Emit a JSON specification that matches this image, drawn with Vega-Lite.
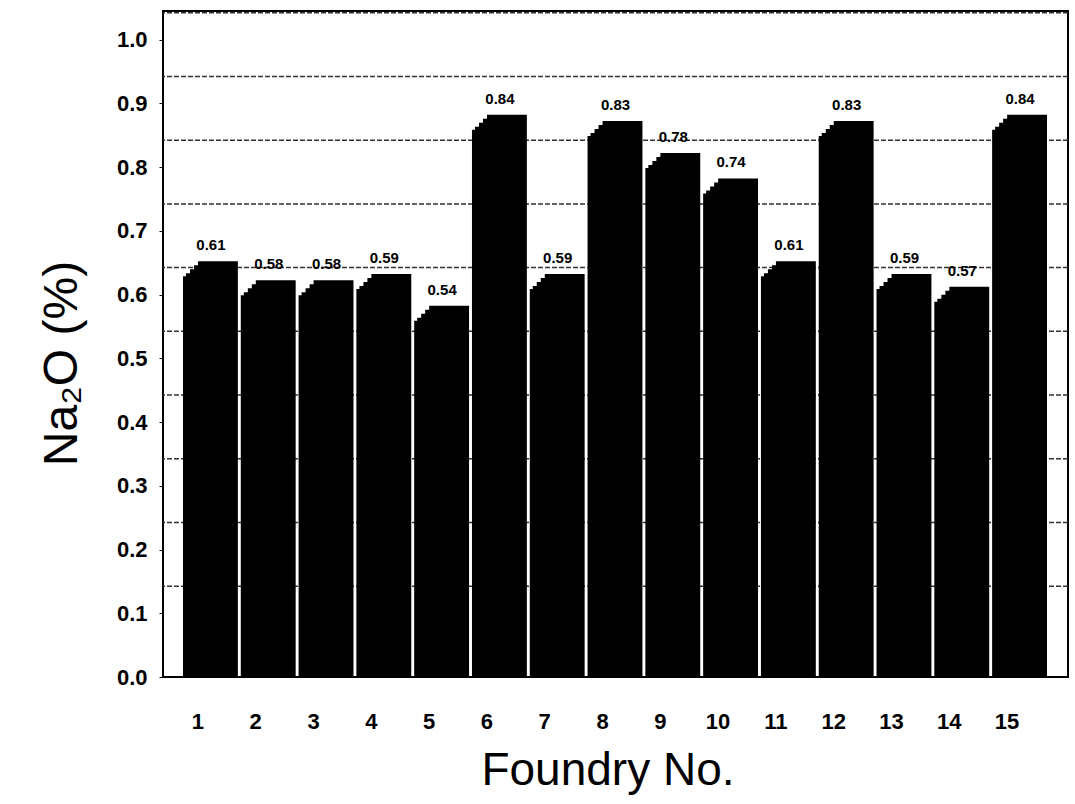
{
  "$schema": "https://vega.github.io/schema/vega-lite/v6.json",
  "width": 905,
  "height": 666,
  "autosize": {"type": "none"},
  "padding": {"left": 163, "top": 11, "right": 7, "bottom": 127},
  "background": "white",
  "config": {
    "font": "Liberation Sans",
    "view": {"stroke": "black", "strokeWidth": 2}
  },
  "datasets": {
    "na2o": [
      {"foundry": "1", "na2o": 0.61},
      {"foundry": "2", "na2o": 0.58},
      {"foundry": "3", "na2o": 0.58},
      {"foundry": "4", "na2o": 0.59},
      {"foundry": "5", "na2o": 0.54},
      {"foundry": "6", "na2o": 0.84},
      {"foundry": "7", "na2o": 0.59},
      {"foundry": "8", "na2o": 0.83},
      {"foundry": "9", "na2o": 0.78},
      {"foundry": "10", "na2o": 0.74},
      {"foundry": "11", "na2o": 0.61},
      {"foundry": "12", "na2o": 0.83},
      {"foundry": "13", "na2o": 0.59},
      {"foundry": "14", "na2o": 0.57},
      {"foundry": "15", "na2o": 0.84}
    ],
    "walls": [
      {"level": 0.1}, {"level": 0.2}, {"level": 0.3}, {"level": 0.4}, {"level": 0.5},
      {"level": 0.6}, {"level": 0.7}, {"level": 0.8}, {"level": 0.9}, {"level": 1.0}
    ]
  },
  "layer": [
    {
      "data": {"name": "walls"},
      "mark": {"type": "rule", "yOffset": -27, "stroke": "#333333", "strokeWidth": 1.5, "strokeDash": [5, 2]},
      "encoding": {
        "y": {
          "field": "level",
          "type": "quantitative",
          "scale": {"domain": [0, 1.045], "nice": false, "zero": true},
          "axis": {
            "values": [0, 0.1, 0.2, 0.3, 0.4, 0.5, 0.6, 0.7, 0.8, 0.9, 1.0],
            "format": ".1f",
            "grid": false,
            "domain": false,
            "ticks": true,
            "tickSize": 4,
            "tickColor": "black",
            "labelFontSize": 22,
            "labelFontWeight": "bold",
            "labelColor": "black",
            "labelPadding": 12,
            "title": "Na₂O (%)",
            "titleFontSize": 48,
            "titleFontWeight": "normal",
            "titleColor": "black",
            "titlePadding": 30,
            "titleY": 352
          }
        }
      }
    },
    {
      "data": {"name": "na2o"},
      "mark": {"type": "bar", "color": "black", "xOffset": 15, "yOffset": -27, "y2Offset": 0},
      "encoding": {
        "x": {
          "field": "foundry",
          "type": "ordinal",
          "sort": null,
          "scale": {"range": [20, 869], "paddingInner": 0.31, "paddingOuter": 0},
          "axis": {
            "labelAngle": 0,
            "domain": false,
            "ticks": false,
            "labelFontSize": 22,
            "labelFontWeight": "bold",
            "labelColor": "black",
            "labelPadding": 34,
            "labelOffset": -5,
            "title": "Foundry No.",
            "titleFontSize": 46,
            "titleFontWeight": "normal",
            "titleColor": "black",
            "titlePadding": 16
          }
        },
        "y": {"field": "na2o", "type": "quantitative", "scale": {"domain": [0, 1.045], "nice": false}},
        "y2": {"datum": 0}
      }
    },
    {
      "data": {"name": "na2o"},
      "mark": {"type": "bar", "color": "black", "xOffset": 11, "yOffset": -23, "y2Offset": 0},
      "encoding": {
        "x": {"field": "foundry", "type": "ordinal", "sort": null},
        "y": {"field": "na2o", "type": "quantitative"},
        "y2": {"datum": 0}
      }
    },
    {
      "data": {"name": "na2o"},
      "mark": {"type": "bar", "color": "black", "xOffset": 7, "yOffset": -19, "y2Offset": 0},
      "encoding": {
        "x": {"field": "foundry", "type": "ordinal", "sort": null},
        "y": {"field": "na2o", "type": "quantitative"},
        "y2": {"datum": 0}
      }
    },
    {
      "data": {"name": "na2o"},
      "mark": {"type": "bar", "color": "black", "xOffset": 3, "yOffset": -15, "y2Offset": 0},
      "encoding": {
        "x": {"field": "foundry", "type": "ordinal", "sort": null},
        "y": {"field": "na2o", "type": "quantitative"},
        "y2": {"datum": 0}
      }
    },
    {
      "data": {"name": "na2o"},
      "mark": {"type": "bar", "color": "black", "yOffset": -12, "y2Offset": 0},
      "encoding": {
        "x": {"field": "foundry", "type": "ordinal", "sort": null},
        "y": {"field": "na2o", "type": "quantitative"},
        "y2": {"datum": 0}
      }
    },
    {
      "data": {"name": "na2o"},
      "mark": {"type": "text", "fontSize": 15, "fontWeight": "bold", "color": "black", "baseline": "bottom", "yOffset": -27, "dy": -8, "xOffset": 8},
      "encoding": {
        "x": {"field": "foundry", "type": "ordinal", "sort": null},
        "y": {"field": "na2o", "type": "quantitative"},
        "text": {"field": "na2o", "type": "quantitative", "format": ".2f"}
      }
    }
  ]
}
